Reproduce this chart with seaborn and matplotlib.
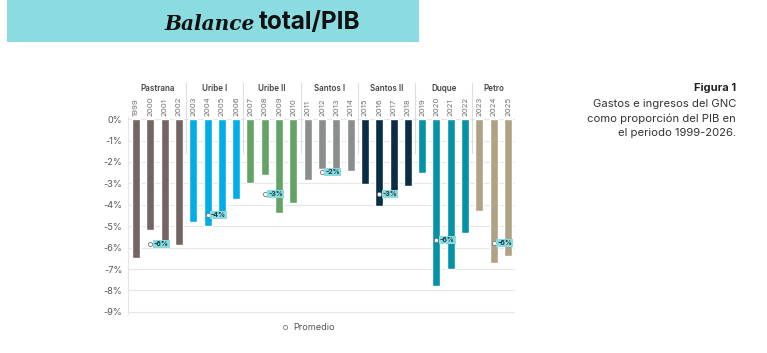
import pandas as pd
import seaborn as sns
import matplotlib.pyplot as plt
import matplotlib.transforms as mtransforms
from matplotlib.patches import Rectangle
from matplotlib.lines import Line2D

# Datos (balance total / PIB, %)
years = [str(y) for y in range(1999, 2026)]
balance = [-6.5, -5.2, -5.7, -5.9,
           -4.8, -5.0, -4.4, -3.75,
           -3.0, -2.6, -4.4, -3.9,
           -2.85, -2.35, -2.35, -2.4,
           -3.05, -4.05, -3.7, -3.1,
           -2.5, -7.8, -7.0, -5.3,
           -4.3, -6.7, -6.4]
gobiernos = (["Pastrana"] * 4 + ["Uribe I"] * 4 + ["Uribe II"] * 4 + ["Santos I"] * 4
             + ["Santos II"] * 4 + ["Duque"] * 4 + ["Petro"] * 3)
nombres = ["Pastrana", "Uribe I", "Uribe II", "Santos I", "Santos II", "Duque", "Petro"]
colores = ["#756464", "#00ade6", "#65a265", "#8b8e8e", "#0a2d45", "#0592a8", "#b0a285"]
etiquetas_prom = ["-6%", "-4%", "-3%", "-2%", "-3%", "-6%", "-6%"]

df = pd.DataFrame({"year": years, "balance": balance, "gobierno": gobiernos})
df["pos"] = range(len(df))

W, H = 767, 353
fig = plt.figure(figsize=(W / 100, H / 100), dpi=100)
sns.set_style("white")
plt.rcParams["font.family"] = ["Inter", "DejaVu Sans"]

ax = fig.add_axes([128 / W, 1 - 314 / H, (515 - 128) / W, (314 - 117) / H])
sns.barplot(data=df, x="year", y="balance", hue="gobierno", palette=dict(zip(nombres, colores)),
            dodge=False, width=0.56, saturation=1, legend=False, ax=ax, zorder=2)

ax.set_xlim(-0.56, len(years) - 0.51)
ax.set_ylim(-9.1, 0.1)
ax.set_yticks(range(-9, 1))
ax.set_yticklabels([f"{v}%" for v in range(-9, 1)])
ax.yaxis.grid(True, color="#e6e6e6", lw=0.8, zorder=0)
ax.set_axisbelow(True)
ax.set_xlabel("")
ax.set_ylabel("")
ax.xaxis.tick_top()
ax.tick_params(axis="x", length=0, labelsize=5.6, labelrotation=90, labelcolor="#707070", pad=1)
ax.tick_params(axis="y", length=0, labelsize=6.6, labelcolor="#555555", pad=4)
for s in ["top", "right", "bottom"]:
    ax.spines[s].set_visible(False)
ax.spines["left"].set_color("#e6e6e6")

# promedios por gobierno
trans = mtransforms.blended_transform_factory(ax.transData, ax.transAxes)
for i, nombre in enumerate(nombres):
    g = df[df.gobierno == nombre]
    prom = g.balance.mean()
    xp = g.pos.iloc[1]
    ax.scatter([xp], [prom], s=9, facecolor="white", edgecolor="#777777", lw=0.6, zorder=4)
    ax.annotate(etiquetas_prom[i], (xp, prom), xytext=(2.5, 0), textcoords="offset points",
                ha="left", va="center", fontsize=5, fontweight="bold", color="#17393f", zorder=5,
                bbox=dict(boxstyle="square,pad=0.15", fc="#8adbe0", ec="none"))
    ax.text(g.pos.mean(), 1.147, nombre, transform=trans, ha="center", va="center",
            fontsize=5.8, fontweight="semibold", color="#444444")
    if i > 0:
        xs = g.pos.iloc[0] - 0.5
        ax.plot([xs, xs], [0.817, 1.173], transform=trans, color="#dddddd", lw=0.8, clip_on=False)

handle = Line2D([], [], marker="o", ls="none", mfc="white", mec="#777777", ms=3, mew=0.6)
fig.legend([handle], ["Promedio"], loc="center", bbox_to_anchor=(308 / W, 1 - 328 / H),
           frameon=False, fontsize=6.6, handlelength=0.8, handletextpad=0.4, labelcolor="#555555")

# cabecera
fig.patches.append(Rectangle((7 / W, 1 - 42 / H), 412 / W, 42 / H, transform=fig.transFigure,
                             fc="#8adce0", ec="none", zorder=0))
fig.text(255 / W, 1 - 29.5 / H, "Balance", ha="right", va="baseline", family="DejaVu Serif",
         style="italic", weight="bold", fontsize=14.5, color="#111111")
fig.text(259 / W, 1 - 29.5 / H, "total/PIB", ha="left", va="baseline", weight="bold",
         fontsize=17.5, color="#111111")

# texto lateral
fig.text(736 / W, 1 - 88 / H, "Figura 1", ha="right", va="center", weight="bold",
         fontsize=8, color="#222222")
for yy, linea in zip([104, 118.5, 133], ["Gastos e ingresos del GNC", "como proporción del PIB en",
                                         "el periodo 1999-2026."]):
    fig.text(736 / W, 1 - yy / H, linea, ha="right", va="center", fontsize=8.1, color="#333333")

fig.savefig("out.png", dpi=100, facecolor="white")
